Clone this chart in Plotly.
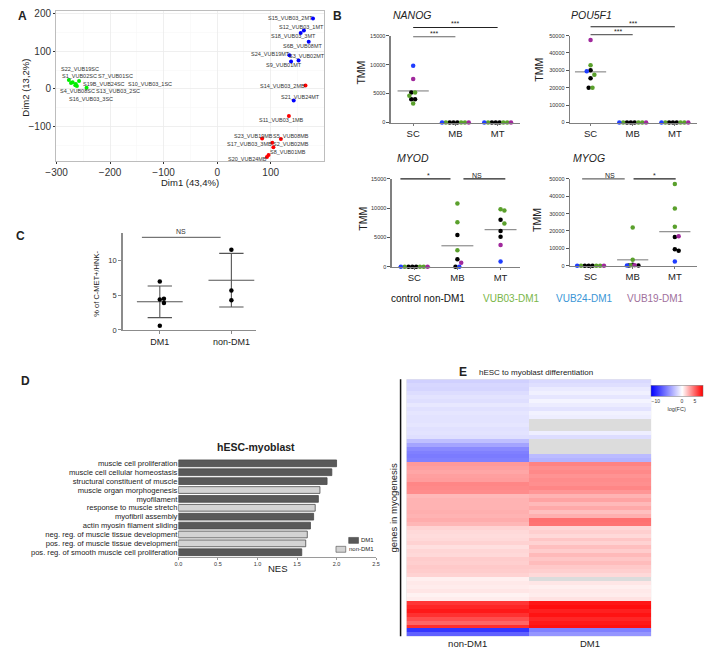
import numpy as np
import plotly.graph_objects as go

W, H = 709, 659
FONT = "Arial, Liberation Sans, sans-serif"

# ---------------------------------------------------------------- data
# Panel A : PCA
PCA_SAMPLES = ['S22_VUB19SC', 'S1_VUB02SC', 'S7_VUB01SC', 'S19B_VUB24SC', 'S10_VUB03_1SC',
               'S4_VUB08SC', 'S13_VUB03_2SC', 'S16_VUB03_3SC',
               'S14_VUB03_2MB', 'S11_VUB03_1MB', 'S23_VUB19MB', 'S5_VUB08MB', 'S17_VUB03_3MB',
               'S2_VUB02MB', 'S8_VUB01MB', 'S20_VUB24MB',
               'S15_VUB03_2MT', 'S12_VUB03_1MT', 'S18_VUB03_3MT', 'S6B_VUB08MT', 'S24_VUB19MT',
               'S3_VUB02MT', 'S9_VUB01MT', 'S21_VUB24MT']
PCA_DIM1 = [-277, -273, -258, -270, -244, -265, -264, -262,
            165, 134, 84, 119, 103, 105, 96, 93,
            179, 162, 156, 171, 135, 152, 138, 143]
PCA_DIM2 = [24, 16, 21, 18, 3, 10, 13, 8,
            9, -72, -132, -133, -143, -155, -176, -181,
            188, 156, 149, 126, 90, 76, 73, -31]
PCA_STAGE = ['SC'] * 8 + ['MB'] * 8 + ['MT'] * 8

# Panel B : TMM per stage, sample order = LINE_GROUPS
STAGES = ['SC', 'MB', 'MT']
LINE_GROUPS = ['control', 'control', 'control', 'VUB03', 'VUB03', 'VUB03', 'VUB24', 'VUB19']
NANOG_SC = [5200, 4000, 4000, 5200, 4600, 3300, 9800, 7500]
NANOG_MB = [0, 0, 0, 0, 0, 0, 0, 0]
NANOG_MT = [0, 0, 0, 0, 0, 0, 0, 0]
POU5F1_SC = [30000, 25500, 20000, 33000, 27500, 20000, 29500, 47500]
POU5F1_MB = [0, 0, 0, 0, 0, 0, 0, 0]
POU5F1_MT = [0, 0, 0, 0, 0, 0, 0, 0]
MYOD_SC = [0, 0, 0, 0, 0, 0, 0, 0]
MYOD_MB = [5400, 1300, 0, 10800, 7600, 2800, 0, 700]
MYOD_MT = [8000, 6100, 5100, 9800, 9600, 7400, 900, 3700]
MYOG_SC = [0, 0, 0, 0, 0, 0, 0, 0]
MYOG_MB = [600, 200, 100, 22000, 3500, 300, 200, 300]
MYOG_MT = [16500, 9500, 8700, 47000, 33000, 22500, 2500, 17000]
LEGEND_B = ['control non-DM1', 'VUB03-DM1', 'VUB24-DM1', 'VUB19-DM1']

# Panel C
C_GROUPS = ['DM1', 'non-DM1']
C_DM1 = [7.0, 4.4, 4.5, 3.9, 0.6]
C_NONDM1 = [11.6, 5.7, 4.3]

# Panel D
GO_TERMS = ['muscle cell proliferation', 'muscle cell cellular homeostasis',
            'structural constituent of muscle', 'muscle organ morphogenesis', 'myofilament',
            'response to muscle stretch', 'myofibril assembly', 'actin myosin filament sliding',
            'neg. reg. of muscle tissue development', 'pos. reg. of muscle tissue development',
            'pos. reg. of smooth muscle cell proliferation']
GO_NES = [2.00, 1.94, 1.88, 1.79, 1.77, 1.73, 1.71, 1.67, 1.63, 1.61, 1.56]
GO_GROUP = ['DM1', 'DM1', 'DM1', 'non-DM1', 'DM1', 'non-DM1', 'DM1', 'DM1',
            'non-DM1', 'non-DM1', 'DM1']

# Panel E : log(FC) per gene row (None = not available)
HM_COLS = ['non-DM1', 'DM1']
HM_NONDM1 = [-2.2, -1.9, -2.0, -1.6, -1.3, -1.5, -1.1, -1.4, -1.2, -1.3,
             -1.3, -1.2, -1.4, -1.3, -1.5,
             -3.0, -4.3,
             -5.5, -6.0, -6.2, -6.0,
             3.2, 3.0, 2.8, 3.0, 3.1,
             3.8, 3.7, 3.6,
             2.2, 2.4, 2.4, 2.4, 2.5, 2.4,
             2.6, 2.3,
             1.4, 1.2, 1.1, 1.2, 1.4, 1.0, 1.3, 1.2,
             1.6, 1.5, 1.7, 1.6, 1.4,
             0.5, 0.7, 0.6, 0.8, 0.4, 0.6,
             6.3, 6.8, 7.2, 6.5, 5.6, 4.8, 6.6,
             -9.5, -7.5]
HM_DM1 = [-1.8, -1.5, -1.0, -0.7, -1.2, -0.5, -0.9, -1.3, -0.6, -0.8,
          None, None, None,
          -0.8, -1.6,
          None, None, None, None,
          -3.2, -3.6,
          3.9, 3.5, 3.7, 3.4, 3.6,
          3.5, 3.8, 3.3,
          2.4, 2.9, 2.2, 2.7, 2.0, 2.5,
          4.5, 4.4,
          1.3, 1.5, 1.2, 1.8, 1.4, 2.0, 1.6, 2.2,
          1.8, 2.1, 1.7, 1.5, 1.2,
          None,
          0.8, 0.5, 0.7, 0.6, 0.9,
          7.3, 7.6, 7.0, 7.4, 6.8, 7.2, 7.5,
          -6.0, -5.0]

# ---------------------------------------------------------------- helpers
def fx(p):
    return p / W


def fy(p):
    return 1 - p / H


annotations, shapes, traces = [], [], []


def text(x, y, s, size, color='#222', bold=False, italic=False, angle=0,
         xanchor='center', yanchor='middle'):
    if bold:
        s = '<b>' + s + '</b>'
    if italic:
        s = '<i>' + s + '</i>'
    annotations.append(dict(x=fx(x), y=fy(y), xref='paper', yref='paper', text=s,
                            showarrow=False, textangle=angle, xanchor=xanchor,
                            yanchor=yanchor, font=dict(size=size, color=color, family=FONT)))


def swarm(vals, yppu, xppu, d=3.9):
    placed, offs = [], []
    cands = [0.0]
    for i in range(1, 14):
        cands += [i * d, -i * d]
    for v in vals:
        yp = v * yppu
        for c in cands:
            if all((c - px) ** 2 + (yp - py) ** 2 >= (0.92 * d) ** 2 for px, py in placed):
                break
        placed.append((c, yp))
        offs.append(c)
    offs = np.array(offs, dtype=float)
    va = np.array(vals, dtype=float)
    for v in set(vals):
        idx = va == v
        if idx.sum() > 1:
            offs[idx] -= offs[idx].mean()
    return list(offs / xppu)


layout = dict(width=W, height=H, margin=dict(l=0, r=0, t=0, b=0),
              paper_bgcolor='white', plot_bgcolor='white', showlegend=False,
              hovermode=False, font=dict(family=FONT, color='#222'))

# ---------------------------------------------------------------- panel A
STAGE_COL = {'SC': '#00ee00', 'MB': '#ff0000', 'MT': '#0000ff'}
layout['xaxis'] = dict(domain=[fx(46), fx(320)], range=[-301, 200], anchor='y',
                       tickvals=[-300, -200, -100, 0, 100], ticks='outside', ticklen=2,
                       tickcolor='#333', tickfont=dict(size=10, color='#333'),
                       showgrid=True, gridcolor='#ebebeb', gridwidth=0.8, zeroline=False,
                       showline=True, mirror=True, linecolor='#bdbdbd', linewidth=1,
                       minor=dict(tickvals=[-250, -150, -50, 50, 150], showgrid=True,
                                  gridcolor='#f6f6f6', gridwidth=0.5))
layout['yaxis'] = dict(domain=[fy(160), fy(8)], range=[-192, 208], anchor='x',
                       tickvals=[-100, 0, 100, 200], ticks='outside', ticklen=2,
                       tickcolor='#333', tickfont=dict(size=10, color='#333'),
                       showgrid=True, gridcolor='#ebebeb', gridwidth=0.8, zeroline=False,
                       showline=True, mirror=True, linecolor='#bdbdbd', linewidth=1,
                       minor=dict(tickvals=[-150, -50, 50, 150], showgrid=True,
                                  gridcolor='#f6f6f6', gridwidth=0.5))
for st in ['SC', 'MB', 'MT']:
    idx = [i for i, s in enumerate(PCA_STAGE) if s == st]
    traces.append(go.Scatter(x=[PCA_DIM1[i] for i in idx], y=[PCA_DIM2[i] for i in idx],
                             mode='markers', marker=dict(size=4, color=STAGE_COL[st]),
                             xaxis='x', yaxis='y'))
# label placement (pixel offsets from the point, ggrepel-like)
PCA_LABEL_STYLE = [(-9.6, -10.9, 'left'), (-10.8, -6.9, 'left'), (17, -5, 'left'),
                   (8.6, 1.8, 'left'), (39.4, -3.9, 'left'), (-17.1, 5.8, 'left'),
                   (18.3, 6.9, 'left'), (-9.8, 13, 'left'),
                   (-22.7, 0, 'center'), (-7, 4, 'center'), (-8.5, -3, 'center'),
                   (10, -3, 'center'), (-23, 1.7, 'center'), (18, -3.3, 'center'),
                   (19.4, -3, 'center'), (-19, 2.3, 'center'),
                   (-22.8, 0, 'center'), (-2.4, -3.7, 'center'), (-7, 3.4, 'center'),
                   (-6.6, 4, 'center'), (-19.4, -1.7, 'center'), (8.7, -4.3, 'center'),
                   (-7, 3.7, 'center'), (6.7, -3.7, 'center')]
for name, xv, yv, (dx, dy, anc) in zip(PCA_SAMPLES, PCA_DIM1, PCA_DIM2, PCA_LABEL_STYLE):
    annotations.append(dict(x=xv, y=yv, xref='x', yref='y', text=name, showarrow=False,
                            xshift=dx, yshift=-dy, xanchor=anc, yanchor='middle',
                            font=dict(size=5.5, color='#333', family=FONT)))
text(183, 182, 'Dim1 (43,4%)', 9.5)
text(15, 86, 'Dim2 (13,2%)', 9.5, angle=-90)
text(12, 13, 'A', 12, bold=True)

# ---------------------------------------------------------------- panel B
GROUP_COL = {'control': '#000000', 'VUB03': '#5aa02c', 'VUB24': '#1f3dff', 'VUB19': '#a0289c'}
LEGEND_COL = ['#111111', '#7ab648', '#3a96d6', '#a0709c']
GENE_DATA = {'NANOG': [NANOG_SC, NANOG_MB, NANOG_MT],
             'POU5F1': [POU5F1_SC, POU5F1_MB, POU5F1_MT],
             'MYOD': [MYOD_SC, MYOD_MB, MYOD_MT],
             'MYOG': [MYOG_SC, MYOG_MB, MYOG_MT]}
B_PANELS = [
    dict(gene='NANOG', n=2, xdom=(388, 520), ydom=(33, 121), xr=(-0.53, 2.53), ymax=15000,
         dtick=5000, title=(410, 12), tmm=(358, 70),
         sig=[(0, 2, 16400, '***', '#222'), (0, 1, 14800, '***', '#666')]),
    dict(gene='POU5F1', n=3, xdom=(571, 701), ydom=(33, 121), xr=(-0.49, 2.53), ymax=50000,
         dtick=10000, title=(593, 12), tmm=(540, 68),
         sig=[(0, 2, 55100, '***', '#222'), (0, 1, 50600, '***', '#666')]),
    dict(gene='MYOD', n=4, xdom=(389, 520), ydom=(178, 267), xr=(-0.52, 2.45), ymax=15000,
         dtick=5000, title=(411, 157), tmm=(360, 218),
         sig=[(-0.32, 0.84, 15000, '*', '#222'), (1.14, 2.11, 15000, 'NS', '#222')]),
    dict(gene='MYOG', n=5, xdom=(571, 701), ydom=(178, 266), xr=(-0.49, 2.53), ymax=50000,
         dtick=10000, title=(590, 157), tmm=(538, 220),
         sig=[(-0.2, 0.81, 50000, 'NS', '#666'), (1.02, 2.02, 50000, '*', '#222')]),
]
for p in B_PANELS:
    n = p['n']
    xa, ya = 'x%d' % n, 'y%d' % n
    xd0, xd1 = p['xdom']
    yd0, yd1 = p['ydom']
    xr0, xr1 = p['xr']
    ymax = p['ymax']
    xppu = (xd1 - xd0) / (xr1 - xr0)
    yppu = (yd1 - yd0) / ymax
    layout['xaxis%d' % n] = dict(domain=[fx(xd0), fx(xd1)], range=[xr0, xr1], anchor=ya,
                                 tickvals=[0, 1, 2], ticktext=STAGES, ticks='outside',
                                 ticklen=2, tickcolor='#777', tickfont=dict(size=9.5, color='#222'),
                                 showline=True, linecolor='#808080', linewidth=1.3,
                                 showgrid=False, zeroline=False)
    layout['yaxis%d' % n] = dict(domain=[fy(yd1), fy(yd0)], range=[0, ymax], anchor=xa,
                                 dtick=p['dtick'], tickformat='d', ticks='outside', ticklen=3,
                                 tickcolor='#555', tickfont=dict(size=5.5, color='#333'),
                                 showline=True, linecolor='#808080', linewidth=1.3,
                                 showgrid=False, zeroline=False)
    pts = {g: ([], []) for g in GROUP_COL}
    for si, vals in enumerate(GENE_DATA[p['gene']]):
        offs = swarm(vals, yppu, xppu)
        for v, o, g in zip(vals, offs, LINE_GROUPS):
            pts[g][0].append(si + o)
            pts[g][1].append(v)
        m = float(np.mean(vals))
        traces.append(go.Scatter(x=[si - 0.37, si + 0.37], y=[m, m], mode='lines',
                                 line=dict(color='#777', width=1), xaxis=xa, yaxis=ya,
                                 hoverinfo='skip'))
    for g, (xs, ys) in pts.items():
        traces.append(go.Scatter(x=xs, y=ys, mode='markers', cliponaxis=False,
                                 marker=dict(size=4.5, color=GROUP_COL[g]),
                                 xaxis=xa, yaxis=ya))
    for (a, b, yv, txt, col) in p['sig']:
        fa, fb = (a - xr0) / (xr1 - xr0), (b - xr0) / (xr1 - xr0)
        fv = yv / ymax
        shapes.append(dict(type='line', xref='x%d domain' % n, yref='y%d domain' % n,
                           x0=fa, x1=fb, y0=fv, y1=fv, line=dict(color=col, width=1.2)))
        annotations.append(dict(xref='x%d domain' % n, yref='y%d domain' % n,
                                x=(fa + fb) / 2, y=fv, text=txt, showarrow=False,
                                yanchor='bottom', yshift=-2,
                                font=dict(size=7, color='#222', family=FONT)))
    text(p['title'][0], p['title'][1], p['gene'], 10.5, italic=True)
    text(p['tmm'][0], p['tmm'][1], 'TMM', 10.5, angle=-90)

LEGEND_B_X = [386, 480, 555, 627]
for lab, col, xl in zip(LEGEND_B, LEGEND_COL, LEGEND_B_X):
    text(xl, 299, lab, 10, color=col, xanchor='left')
text(334, 13, 'B', 12, bold=True)

# ---------------------------------------------------------------- panel C
cx0, cx1, cxr = 114, 250, (-0.52, 1.34)
cy0, cy1, cymax = 233, 331, 14
c_xppu = (cx1 - cx0) / (cxr[1] - cxr[0])
c_yppu = (cy1 - cy0) / cymax
layout['xaxis6'] = dict(domain=[fx(cx0), fx(cx1)], range=list(cxr), anchor='y6',
                        tickvals=[0, 1], ticktext=C_GROUPS, ticks='outside', ticklen=3,
                        tickcolor='#888', tickfont=dict(size=9, color='#222'),
                        showline=True, linecolor='#8c8c8c', linewidth=1.5,
                        showgrid=False, zeroline=False)
layout['yaxis6'] = dict(domain=[fy(cy1), fy(cy0)], range=[0, cymax], anchor='x6',
                        tickvals=[0, 5, 10], ticks='outside', ticklen=3, tickcolor='#888',
                        tickfont=dict(size=7.5, color='#333'),
                        showline=True, linecolor='#8c8c8c', linewidth=1.5,
                        showgrid=False, zeroline=False)
for gi, vals in enumerate([C_DM1, C_NONDM1]):
    offs = swarm(vals, c_yppu, c_xppu, d=4.2)
    m = float(np.mean(vals))
    sd = float(np.std(vals, ddof=1))
    lc = dict(color='#555', width=1.1)
    traces.append(go.Scatter(x=[gi - 0.32, gi + 0.32], y=[m, m], mode='lines', line=lc,
                             xaxis='x6', yaxis='y6'))
    traces.append(go.Scatter(x=[gi, gi], y=[m - sd, m + sd], mode='lines', line=lc,
                             xaxis='x6', yaxis='y6'))
    for e in (m - sd, m + sd):
        traces.append(go.Scatter(x=[gi - 0.17, gi + 0.17], y=[e, e], mode='lines', line=lc,
                                 xaxis='x6', yaxis='y6'))
    traces.append(go.Scatter(x=[gi + o for o in offs], y=vals, mode='markers',
                             marker=dict(size=4.5, color='#000'), xaxis='x6', yaxis='y6',
                             cliponaxis=False))
shapes.append(dict(type='line', xref='x6', yref='y6', x0=-0.25, x1=0.85, y0=13.4, y1=13.4,
                   line=dict(color='#555', width=1)))
annotations.append(dict(xref='x6', yref='y6', x=0.3, y=13.4, text='NS', showarrow=False,
                        yanchor='bottom', font=dict(size=7, color='#333', family=FONT)))
text(87, 284, '% of C-MET+/HNK-', 7.5, angle=-90)
text(10, 236, 'C', 12, bold=True)

# ---------------------------------------------------------------- panel D
DCOL = {'DM1': '#595959', 'non-DM1': '#d3d3d3'}
layout['xaxis7'] = dict(domain=[fx(171), fx(373)], range=[0, 2.5], anchor='y7',
                        tickvals=[0, 0.5, 1.0, 1.5, 2.0, 2.5],
                        ticktext=['0.0', '0.5', '1.0', '1.5', '2.0', '2.5'],
                        ticks='outside', ticklen=2, tickcolor='#999',
                        tickfont=dict(size=5.5, color='#333'), showline=True,
                        linecolor='#9a9a9a', linewidth=1, showgrid=False, zeroline=False)
layout['yaxis7'] = dict(domain=[fy(560.5), fy(461.5)], anchor='x7', type='category',
                        categoryorder='array', categoryarray=GO_TERMS, autorange='reversed',
                        tickmode='linear', tick0=0, dtick=1,
                        ticks='', tickfont=dict(size=7.6, color='#222'), showline=False,
                        showgrid=False, zeroline=False)
traces.append(go.Bar(x=GO_NES, y=GO_TERMS, orientation='h', width=0.76,
                     marker=dict(color=[DCOL[g] for g in GO_GROUP],
                                 line=dict(color='#4a4a4a', width=0.8)),
                     xaxis='x7', yaxis='y7'))
text(250, 449, 'hESC-myoblast', 10.5, bold=True)
text(273, 572, 'NES', 9.5)
# legend
shapes.append(dict(type='rect', xref='paper', yref='paper', x0=fx(345), x1=fx(355),
                   y0=fy(547), y1=fy(541), fillcolor=DCOL['DM1'],
                   line=dict(color='#4a4a4a', width=0.6)))
shapes.append(dict(type='rect', xref='paper', yref='paper', x0=fx(332), x1=fx(342),
                   y0=fy(556), y1=fy(550), fillcolor=DCOL['non-DM1'],
                   line=dict(color='#4a4a4a', width=0.6)))
text(373, 544, 'DM1', 6, xanchor='right')
text(373, 553, 'non-DM1', 6, xanchor='right')
text(15, 383, 'D', 12, bold=True)

# ---------------------------------------------------------------- panel E
ex0, ex1, ey0, ey1 = 404, 654, 381, 641
nrows = len(HM_NONDM1)
z = [[a, b] for a, b in zip(HM_NONDM1, HM_DM1)]
z = [[np.nan if v is None else v for v in row] for row in z]
layout['xaxis8'] = dict(domain=[fx(ex0), fx(ex1)], anchor='y8', ticks='',
                        tickfont=dict(size=9.5, color='#222'), showline=False,
                        showgrid=False, zeroline=False)
layout['yaxis8'] = dict(domain=[fy(ey1), fy(ey0)], anchor='x8', autorange='reversed',
                        showticklabels=False, ticks='', showline=False, showgrid=False,
                        zeroline=False)
shapes.append(dict(type='rect', xref='paper', yref='paper', x0=fx(ex0), x1=fx(ex1),
                   y0=fy(ey1), y1=fy(ey0), fillcolor='#dcdcdc', line=dict(width=0),
                   layer='below'))
traces.append(go.Heatmap(z=z, x=HM_COLS, y=list(range(nrows)), xaxis='x8', yaxis='y8',
                         zmin=-12, zmax=8,
                         colorscale=[[0, '#0000ff'], [0.6, '#ffffff'], [1, '#ff0000']],
                         colorbar=dict(orientation='h', x=fx(680), xanchor='center',
                                       y=fy(401), yanchor='middle', len=52, lenmode='pixels',
                                       thickness=11, thicknessmode='pixels',
                                       tickvals=[-10, 0, 5], ticks='',
                                       tickfont=dict(size=5, color='#333'),
                                       outlinewidth=0.5, outlinecolor='#777',
                                       xpad=0, ypad=0,
                                       title=dict(text='log(FC)', side='bottom',
                                                  font=dict(size=5.5, color='#333')))))
shapes.append(dict(type='line', xref='paper', yref='paper', x0=fx(398), x1=fx(398),
                   y0=fy(ey1), y1=fy(ey0), line=dict(color='#111', width=1.5)))
text(391, 511, 'genes in myogenesis', 9.5, angle=-90)
text(536, 374, 'hESC to myoblast differentiation', 8)
text(462, 374, 'E', 12, bold=True)

layout['annotations'] = annotations
layout['shapes'] = shapes
fig = go.Figure(data=traces, layout=layout)
fig.write_html("out.html",
               config={'displayModeBar': False, 'staticPlot': True},
               post_script="document.body.style.margin='0px';"
                           "document.documentElement.style.overflow='hidden';")
